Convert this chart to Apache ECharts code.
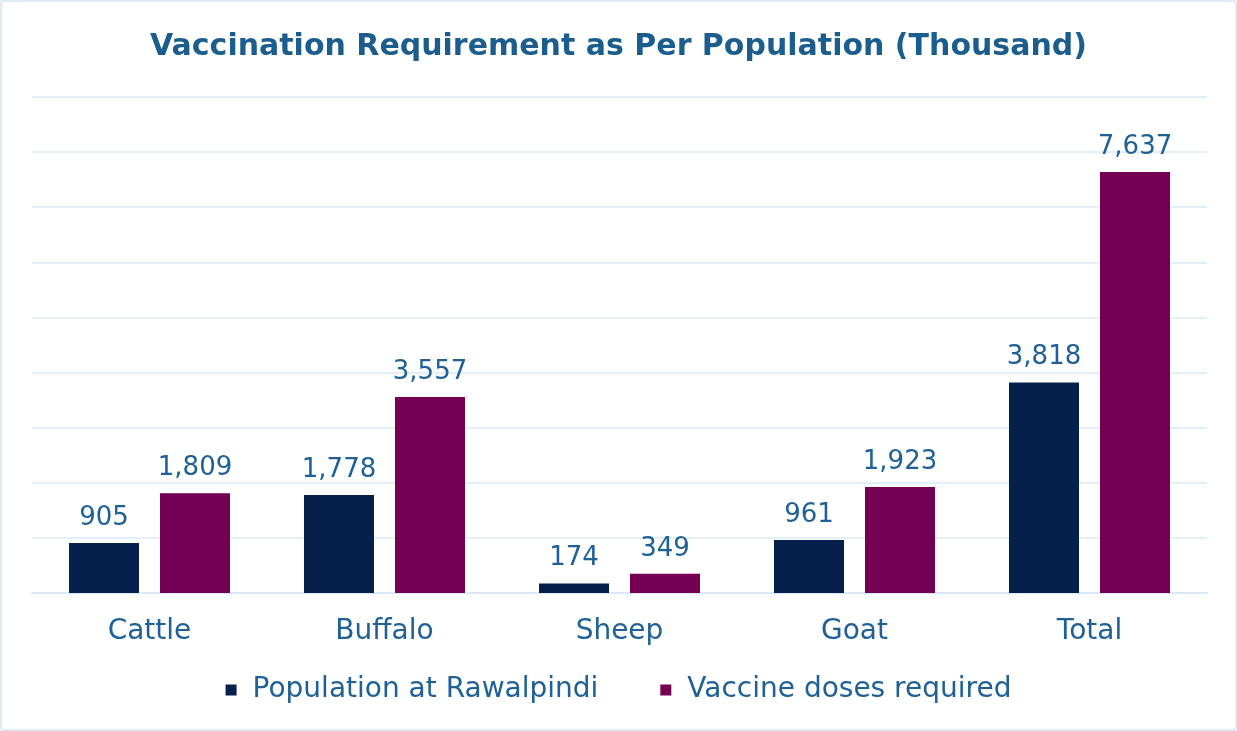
<!DOCTYPE html>
<html>
<head>
<meta charset="utf-8">
<script src="https://cdn.jsdelivr.net/npm/echarts@6/dist/echarts.min.js"></script>
<style>
  html, body { margin: 0; padding: 0; background: #fff; }
  #chart {
    width: 1233px; height: 727px;
    border: 2px solid #dcebf8;
    border-radius: 3px;
  }
</style>
</head>
<body>
<div id="chart"></div>
<script>
// data
const categories = ["Cattle", "Buffalo", "Sheep", "Goat", "Total"]
const population = [905, 1778, 174, 961, 3818]
const vaccineDoses = [1809, 3557, 349, 1923, 7637]
const seriesNames = ["Population at Rawalpindi", "Vaccine doses required"]

const textColor = "#1f6196"
const fontFamily = "DejaVu Sans"

const labelStyle = {
  show: true,
  position: "top",
  distance: 12,
  color: textColor,
  fontSize: 26,
  fontFamily: fontFamily,
  formatter: (p) => p.value.toLocaleString("en-US"),
}

const myChart = echarts.init(document.getElementById("chart"))

const option = {
  title: {
    text: "Vaccination Requirement as Per Population (Thousand)",
    left: "center",
    top: 25,
    textStyle: {
      color: "#1b5e8e",
      fontSize: 30,
      fontWeight: "bold",
      fontFamily: fontFamily,
    },
  },
  legend: {
    data: seriesNames,
    bottom: 20,
    left: "center",
    itemWidth: 11,
    itemHeight: 11,
    itemGap: 62,
    icon: "rect",
    textStyle: {
      color: textColor,
      fontSize: 28,
      fontFamily: fontFamily,
      padding: [0, 0, 0, 11],
    },
  },
  grid: {
    left: 30,
    right: 28,
    top: 95,
    bottom: 136,
  },
  xAxis: {
    type: "category",
    data: categories,
    axisLine: { lineStyle: { color: "#d9e8f6", width: 2 } },
    axisTick: { show: false },
    axisLabel: {
      color: textColor,
      fontSize: 28,
      fontFamily: fontFamily,
      margin: 25,
    },
  },
  yAxis: {
    type: "value",
    min: 0,
    max: 9000,
    interval: 1000,
    axisLabel: { show: false },
    axisLine: { show: false },
    axisTick: { show: false },
    splitLine: { lineStyle: { color: "#d9e8f6", width: 1.5 } },
  },
  series: [
    {
      name: seriesNames[0],
      type: "bar",
      data: population,
      barWidth: 70,
      barGap: "30%",
      itemStyle: { color: "#05204a" },
      label: labelStyle,
    },
    {
      name: seriesNames[1],
      type: "bar",
      data: vaccineDoses,
      barWidth: 70,
      itemStyle: { color: "#730052" },
      label: labelStyle,
    },
  ],
}

myChart.setOption(option)
</script>
</body>
</html>
